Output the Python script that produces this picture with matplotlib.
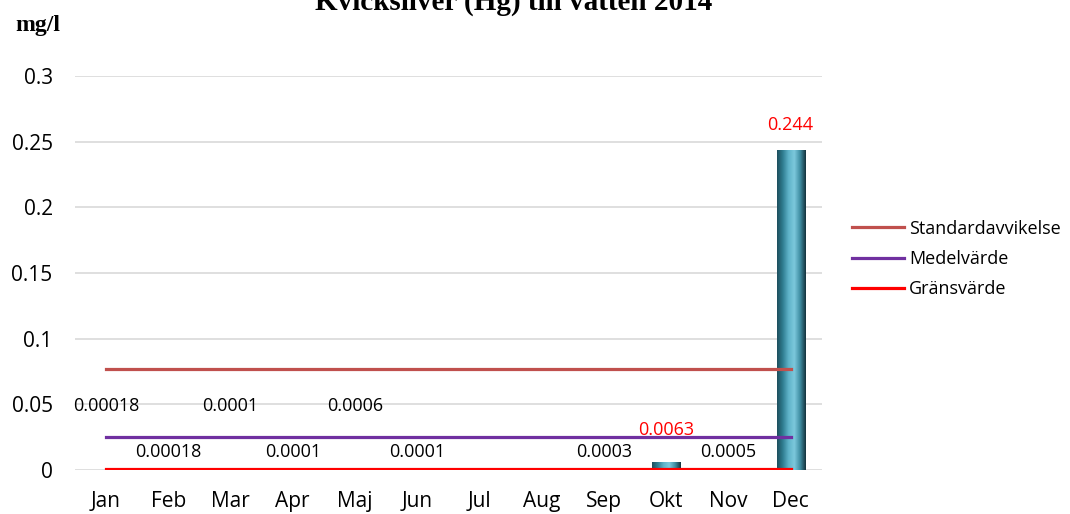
import numpy as np
import matplotlib
matplotlib.use("Agg")
from matplotlib import pyplot as plt
from matplotlib.colors import LinearSegmentedColormap

# %% data
months = ["Jan", "Feb", "Mar", "Apr", "Maj", "Jun", "Jul", "Aug", "Sep", "Okt", "Nov", "Dec"]
hg_values = [0.00018, 0.00018, 0.0001, 0.0001, 0.0006, 0.0001, np.nan, np.nan, 0.0003, 0.0063, 0.0005, 0.244]
value_labels = ["0.00018", "0.00018", "0.0001", "0.0001", "0.0006", "0.0001", "", "", "0.0003", "0.0063", "0.0005", "0.244"]
std_dev = 0.0768
mean_val = 0.0252
limit_val = 0.001

# label placement (y in data units) and colour
label_y = [0.0488, 0.0137, 0.0488, 0.0137, 0.0488, 0.0137, None, None, 0.0137, 0.0305, 0.0137, 0.2625]
label_red = [False] * 9 + [True, False, True]

# %% plot
plt.rcParams["font.family"] = ["Open Sans", "DejaVu Sans"]
fig = plt.figure(figsize=(10.7, 5.14), dpi=100)
ax = fig.add_axes([0.070, 0.0856, 0.698, 0.7665])

x = np.arange(len(months))
bars = ax.bar(x, np.nan_to_num(hg_values), width=0.45, color="#3f93a8", zorder=2)

# cylinder-like shading on bars
cmap = LinearSegmentedColormap.from_list(
    "cyl", ["#1d4e5c", "#2f7d91", "#5fb3c9", "#7cc8dc", "#3f8ea3", "#14323c"])
grad = np.linspace(0, 1, 256).reshape(1, -1)
for b in bars:
    if b.get_height() <= 0:
        continue
    x0, w, h = b.get_x(), b.get_width(), b.get_height()
    im = ax.imshow(grad, cmap=cmap, aspect="auto", extent=(x0, x0 + w, 0, h), zorder=2.5)
    im.set_clip_path(b)

ax.plot(x, [std_dev] * len(x), color="#c0504d", lw=2.3, label="Standardavvikelse", zorder=3)
ax.plot(x, [mean_val] * len(x), color="#7030a0", lw=2.3, label="Medelvärde", zorder=3)
ax.plot(x, [limit_val] * len(x), color="#ff0000", lw=2.3, label="Gränsvärde", zorder=3)

for i, (txt, yy, red) in enumerate(zip(value_labels, label_y, label_red)):
    if not txt:
        continue
    ax.text(x[i], yy, txt, ha="center", va="center", fontsize=13,
            color="#ff0000" if red else "#000000", zorder=4)

ax.set_xlim(-0.5, len(months) - 0.5)
ax.set_ylim(0, 0.3)
ax.set_yticks([0, 0.05, 0.1, 0.15, 0.2, 0.25, 0.3])
ax.set_yticklabels(["0", "0.05", "0.1", "0.15", "0.2", "0.25", "0.3"])
ax.set_xticks(x)
ax.set_xticklabels(months)
ax.tick_params(length=0, labelsize=15)
ax.tick_params(axis="x", pad=15)
ax.tick_params(axis="y", pad=16)
for s in ax.spines.values():
    s.set_visible(False)
ax.grid(axis="y", color="#d9d9d9", lw=1.2, zorder=0)
ax.set_axisbelow(True)

leg = ax.legend(loc="center left", bbox_to_anchor=(1.040, 0.536), frameon=False,
                borderaxespad=0, borderpad=0,
                fontsize=13, handlelength=2.9, handletextpad=0.28, labelspacing=0.68)

fig.text(0.48, 0.996, "Kvicksilver (Hg) till vatten 2014", ha="center", va="center",
         fontsize=21, fontweight="bold", family="Liberation Serif")
fig.text(0.014, 0.951, "mg/l", ha="left", va="center",
         fontsize=17, fontweight="bold", family="Liberation Serif")

fig.savefig("out.png", dpi=100)
